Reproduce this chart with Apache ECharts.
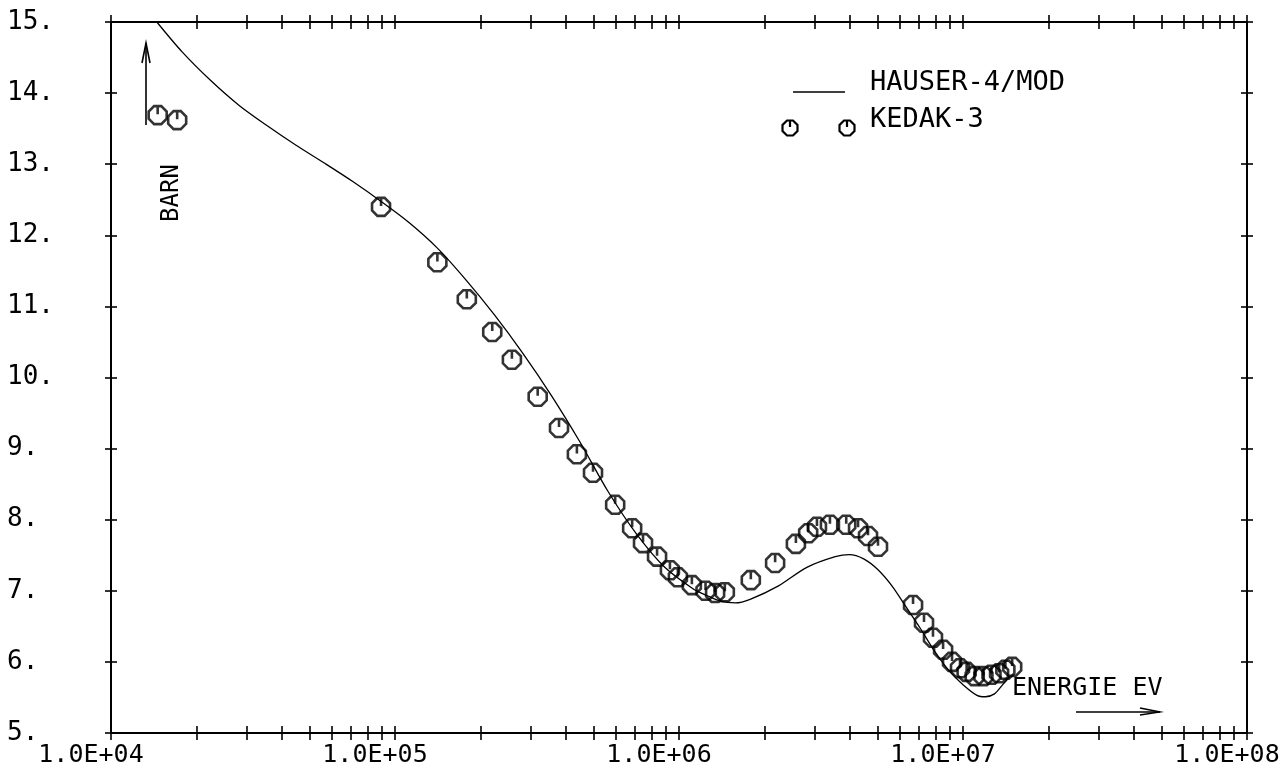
<!DOCTYPE html>
<html>
<head>
<meta charset="utf-8">
<title>HAUSER-4/MOD vs KEDAK-3</title>
<script src="https://cdn.jsdelivr.net/npm/echarts@6/dist/echarts.min.js"></script>
<style>
  html, body { margin: 0; padding: 0; background: #fff; }
  #chart { width: 1285px; height: 776px; }
</style>
</head>
<body>
<div id="chart"></div>
<script>
// HAUSER-4/MOD curve (energy in eV, cross section in barn)
const hauserE = [1.45e4, 1.78e4, 2.24e4, 2.82e4, 3.55e4, 4.47e4, 5.62e4, 7.08e4, 8.91e4, 1.12e5,
  1.41e5, 1.78e5, 2.24e5, 2.82e5, 3.55e5, 4.47e5, 5.62e5, 7.08e5, 8.91e5, 1.12e6,
  1.26e6, 1.41e6, 1.58e6, 1.78e6, 2.24e6, 2.82e6, 3.55e6, 3.98e6, 4.47e6, 5.01e6,
  5.62e6, 6.31e6, 7.08e6, 7.94e6, 8.91e6, 1.00e7, 1.12e7, 1.20e7, 1.29e7, 1.38e7,
  1.46e7];
const hauserXS = [15.00, 14.58, 14.18, 13.83, 13.54, 13.27, 13.02, 12.76, 12.48, 12.18,
  11.82, 11.37, 10.88, 10.34, 9.75, 9.10, 8.40, 7.80, 7.33, 7.03,
  6.93, 6.85, 6.83, 6.88, 7.07, 7.33, 7.48, 7.51, 7.45, 7.30,
  7.07, 6.77, 6.47, 6.15, 5.88, 5.68, 5.53, 5.51, 5.55, 5.68,
  5.79];

// KEDAK-3 points
const kedakE = [1.46e4, 1.71e4, 8.93e4, 1.41e5, 1.79e5, 2.20e5, 2.58e5, 3.18e5, 3.78e5, 4.37e5,
  4.98e5, 5.96e5, 6.84e5, 7.47e5, 8.37e5, 9.29e5, 9.91e5, 1.11e6, 1.24e6, 1.34e6,
  1.45e6, 1.79e6, 2.18e6, 2.58e6, 2.85e6, 3.06e6, 3.40e6, 3.88e6, 4.27e6, 4.63e6,
  5.02e6, 6.67e6, 7.29e6, 7.84e6, 8.51e6, 9.15e6, 9.76e6, 1.03e7, 1.10e7, 1.18e7,
  1.26e7, 1.34e7, 1.41e7, 1.49e7];
const kedakXS = [13.69, 13.62, 12.40, 11.62, 11.10, 10.64, 10.25, 9.73, 9.29, 8.92,
  8.66, 8.21, 7.88, 7.67, 7.48, 7.29, 7.19, 7.08, 7.00, 6.97,
  6.98, 7.15, 7.39, 7.66, 7.81, 7.90, 7.93, 7.93, 7.88, 7.77,
  7.62, 6.80, 6.55, 6.34, 6.17, 6.00, 5.91, 5.86, 5.80, 5.80,
  5.82, 5.84, 5.89, 5.93];

// axis ticks and labels
const xDecades = [1e4, 1e5, 1e6, 1e7, 1e8];
const xTickLabels = ['1.0E+04', '1.0E+05', '1.0E+06', '1.0E+07', '1.0E+08'];
const xMinorSteps = [2, 3, 4, 5, 6, 7, 8, 9];
const yTickValues = [5, 6, 7, 8, 9, 10, 11, 12, 13, 14, 15];
const yTickLabels = ['5.', '6.', '7.', '8.', '9.', '10.', '11.', '12.', '13.', '14.', '15.'];

const FONT = 'DejaVu Sans Mono';

// all tick positions on the log axis (decades + 2..9 in each decade)
const xTicks = [];
xDecades.forEach((d, i) => {
  xTicks.push(d);
  if (i < xDecades.length - 1) xMinorSteps.forEach(m => xTicks.push(m * d));
});

// plotter marker: octagon with a short stroke from the top to the centre
const markerPath = 'path://M6,0 L14,0 L20,6 L20,14 L14,20 L6,20 L0,14 L0,6 Z M10,0 L10,9';

// same marker for the legend, as graphic pieces
function legendMarker(cx, cy, r) {
  const a = r * 0.4;
  return {
    type: 'group', x: cx, y: cy,
    children: [
      { type: 'polygon', shape: { points: [[-a, -r], [a, -r], [r, -a], [r, a], [a, r], [-a, r], [-r, a], [-r, -a]] },
        style: { fill: 'none', stroke: '#000', lineWidth: 2.2 } },
      { type: 'line', shape: { x1: 0, y1: -r, x2: 0, y2: -1 }, style: { stroke: '#000', lineWidth: 2.2 } }
    ]
  };
}

const axisLine = { show: true, onZero: false, lineStyle: { color: '#000', width: 2 } };

function xAxisDef(position, inside, withLabels) {
  return {
    type: 'log',
    logBase: 10,
    min: 1e4,
    max: 1e8,
    position: position,
    gridIndex: 0,
    axisLine: axisLine,
    splitLine: { show: false },
    minorTick: { show: false },
    axisTick: {
      show: true,
      inside: inside,
      length: 7,
      customValues: xTicks,
      lineStyle: { color: '#000', width: 1.6 }
    },
    axisLabel: withLabels ? {
      show: true,
      customValues: xDecades,
      formatter: v => xTickLabels[xDecades.findIndex(d => Math.abs(d - v) / d < 1e-6)],
      fontFamily: FONT,
      fontSize: 25,
      color: '#000',
      margin: 10,
      padding: [0, 40, 0, 0]
    } : { show: false }
  };
}

function yAxisDef(position, inside, withLabels) {
  return {
    type: 'value',
    min: 5,
    max: 15,
    interval: 1,
    position: position,
    gridIndex: 0,
    axisLine: axisLine,
    splitLine: { show: false },
    axisTick: { show: true, inside: inside, length: 6, lineStyle: { color: '#000', width: 1.6 } },
    axisLabel: withLabels ? {
      show: true,
      align: 'left',
      margin: 104,
      formatter: v => yTickLabels[yTickValues.indexOf(v)],
      fontFamily: FONT,
      fontSize: 26,
      color: '#000'
    } : { show: false }
  };
}

const chart = echarts.init(document.getElementById('chart'), null, { renderer: 'canvas' });

const options = {
  animation: false,
  backgroundColor: '#fff',
  grid: { left: 111, right: 38, top: 22, bottom: 43, containLabel: false },
  xAxis: [
    xAxisDef('bottom', false, true),
    xAxisDef('bottom', true, false),
    xAxisDef('top', false, false),
    xAxisDef('top', true, false)
  ],
  yAxis: [
    yAxisDef('left', false, true),
    yAxisDef('left', true, false),
    yAxisDef('right', false, false),
    yAxisDef('right', true, false)
  ],
  series: [
    {
      name: 'HAUSER-4/MOD',
      type: 'line',
      xAxisIndex: 0,
      yAxisIndex: 0,
      data: hauserE.map((e, i) => [e, hauserXS[i]]),
      smooth: 0.3,
      showSymbol: false,
      symbol: 'none',
      lineStyle: { color: '#000', width: 1.3 },
      z: 3
    },
    {
      name: 'KEDAK-3',
      type: 'scatter',
      xAxisIndex: 0,
      yAxisIndex: 0,
      data: kedakE.map((e, i) => [e, kedakXS[i]]),
      symbol: markerPath,
      symbolSize: 18,
      itemStyle: { color: 'rgba(0,0,0,0)', borderColor: '#000', borderWidth: 2.6 },
      z: 4
    }
  ],
  graphic: [
    // legend
    { type: 'line', shape: { x1: 793, y1: 92, x2: 845, y2: 92 }, style: { stroke: '#000', lineWidth: 1.5 } },
    { type: 'text', x: 870, y: 83, style: { text: 'HAUSER-4/MOD', font: '27px "' + FONT + '"', fill: '#000', verticalAlign: 'middle' } },
    legendMarker(790, 128, 7.5),
    legendMarker(847, 128, 7.5),
    { type: 'text', x: 870, y: 120, style: { text: 'KEDAK-3', font: '27px "' + FONT + '"', fill: '#000', verticalAlign: 'middle' } },
    // y unit with arrow
    { type: 'line', shape: { x1: 146, y1: 125, x2: 146, y2: 43 }, style: { stroke: '#000', lineWidth: 1.6 } },
    { type: 'polyline', shape: { points: [[142, 63], [146, 43], [150, 63]] }, style: { stroke: '#000', lineWidth: 1.6, fill: 'none' } },
    { type: 'text', x: 172, y: 193, rotation: Math.PI / 2,
      style: { text: 'BARN', font: '24px "' + FONT + '"', fill: '#000', align: 'center', verticalAlign: 'middle' } },
    // x unit with arrow
    { type: 'text', x: 1012, y: 688, style: { text: 'ENERGIE EV', font: '25px "' + FONT + '"', fill: '#000', verticalAlign: 'middle' } },
    { type: 'line', shape: { x1: 1076, y1: 712, x2: 1160, y2: 712 }, style: { stroke: '#000', lineWidth: 1.6 } },
    { type: 'polyline', shape: { points: [[1140, 708], [1160, 712], [1140, 715]] }, style: { stroke: '#000', lineWidth: 1.4, fill: 'none' } }
  ]
};

chart.setOption(options);
window.addEventListener('resize', () => chart.resize());
</script>
</body>
</html>
